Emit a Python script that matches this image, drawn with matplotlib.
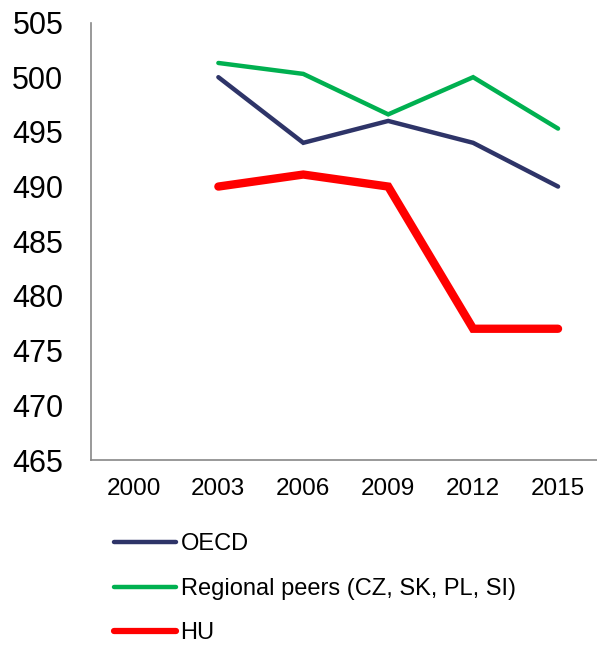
import matplotlib as mpl
mpl.use('Agg')
import matplotlib.pyplot as plt

years = ['2000', '2003', '2006', '2009', '2012', '2015']
oecd = [None, 500.0, 494.0, 496.0, 494.0, 490.0]
regional = [None, 501.3, 500.3, 496.6, 500.0, 495.3]
hu = [None, 490.0, 491.1, 490.0, 477.0, 477.0]

series_names = ['OECD', 'Regional peers (CZ, SK, PL, SI)', 'HU']
series_colors = ['#2E3468', '#00B050', '#FF0000']
series_widths = [3.2, 3.2, 6.0]

mpl.rcParams['font.family'] = 'Liberation Sans'

fig = plt.figure(figsize=(5.97, 6.45), dpi=100)
ax = fig.add_axes([91 / 597, 1 - 460 / 645, (600.5 - 91) / 597, (460 - 22.5) / 645])

x = list(range(len(years)))
for vals, name, col, lw in zip([oecd, regional, hu], series_names, series_colors, series_widths):
    xs = [i for i, v in zip(x, vals) if v is not None]
    ys = [v for v in vals if v is not None]
    ax.plot(xs, ys, color=col, linewidth=lw, solid_capstyle='round',
            solid_joinstyle='miter', label=name)

ax.set_xlim(-0.5, 5.5)
ax.set_ylim(465, 505)
ax.set_yticks(range(465, 506, 5))
ax.set_xticks(x)
ax.set_xticklabels(years)

for side in ['top', 'right']:
    ax.spines[side].set_visible(False)
for side in ['left', 'bottom']:
    ax.spines[side].set_color('#888888')
    ax.spines[side].set_linewidth(1.2)

ax.tick_params(axis='y', length=0, labelsize=22, pad=20)
ax.tick_params(axis='x', length=0, labelsize=17.5, pad=13)

leg_handles = [
    plt.Line2D([], [], color=series_colors[0], linewidth=3.2, solid_capstyle='round'),
    plt.Line2D([], [], color=series_colors[1], linewidth=3.2, solid_capstyle='round'),
    plt.Line2D([], [], color=series_colors[2], linewidth=4.5, solid_capstyle='round'),
]
fig.legend(leg_handles, series_names, loc='upper left', bbox_to_anchor=(105 / 597, 1 - 524 / 645),
           frameon=False, fontsize=17, handlelength=2.6, handletextpad=0.2,
           labelspacing=0.95, borderaxespad=0)

fig.savefig('out.png', dpi=100)
